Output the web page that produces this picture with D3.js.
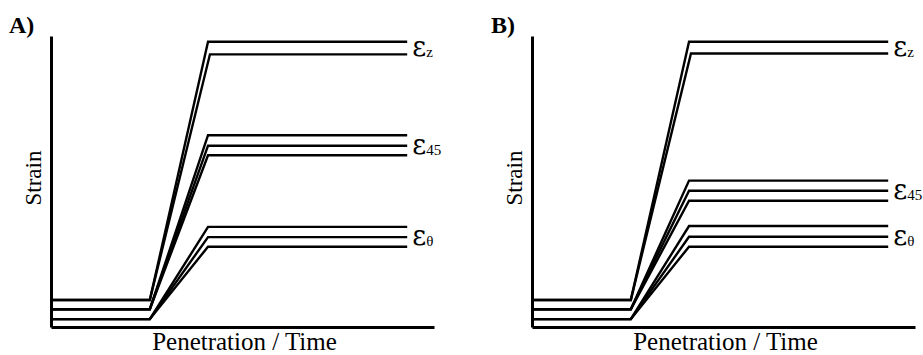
<!DOCTYPE html>
<html>
<head>
<meta charset="utf-8">
<script src="https://cdn.jsdelivr.net/npm/d3@7"></script>
<style>
  html, body { margin: 0; padding: 0; background: #ffffff; }
  svg { display: block; }
  svg text { font-family: "Liberation Serif", "Times New Roman", serif; fill: #000; }
</style>
</head>
<body>
<svg id="chart" width="923" height="355"></svg>
<script>
// ---- data (arbitrary strain / time units) ----
const panels = ["A)", "B)"];
const groups = ["z", "45", "θ"];
// baseline strain of each group before the ramp
const baselines = [9.3, 6.1, 2.7];
// key time points: start, knee (ramp start), corner (ramp end), end
const timePoints = [0, 25.8, 41.0, 93.0];
// final strain levels per group for each panel
const levelsA = [[98.0, 93.7], [65.9, 62.3, 59.0], [34.4, 30.9, 27.6]];
const levelsB = [[98.0, 94.0], [50.3, 46.8, 43.4], [34.7, 31.0, 27.6]];
const xLabel = "Penetration / Time";
const yLabel = "Strain";

// ---- layout ----
const FONT = "'Liberation Serif', 'Times New Roman', serif";
const GREEK = "'DejaVu Serif', 'Liberation Serif', serif";
const svg = d3.select("#chart");
const panelOffsets = [0, 481];
const allLevels = [levelsA, levelsB];

panels.forEach((pname, pi) => {
  const off = panelOffsets[pi];
  const x = d3.scaleLinear().domain([0, 100]).range([51 + off, 434 + off]);
  const y = d3.scaleLinear().domain([0, 100]).range([327, 36]);
  const g = svg.append("g");

  // series lines
  const line = d3.line().x(d => x(d[0])).y(d => y(d[1]));
  allLevels[pi].forEach((lv, gi) => {
    lv.forEach((v, li) => {
      const pts = [
        [timePoints[0], baselines[gi]],
        [timePoints[1], baselines[gi]],
        [timePoints[2] + (gi === 0 ? li * 0.5 : 0), v],
        [timePoints[3], v]
      ];
      g.append("path")
        .attr("d", line(pts))
        .attr("fill", "none")
        .attr("stroke", "#000")
        .attr("stroke-width", 2.4)
        .attr("stroke-linejoin", "miter");
    });
    // label
    const midY = lv.length === 3 ? lv[1] : d3.mean(lv);
    const t = g.append("text")
      .attr("font-family", FONT)
      .attr("x", x(timePoints[3]) + 5)
      .attr("y", y(midY) + 8);
    t.append("tspan").attr("font-family", GREEK).attr("font-size", 27).text("ε");
    t.append("tspan").attr("font-size", 15).attr("dy", 1).text(groups[gi]);
  });

  // axes (no ticks)
  const yAxis = d3.axisLeft(y).tickValues([]).tickSizeOuter(0);
  const xAxis = d3.axisBottom(x).tickValues([]).tickSizeOuter(0);
  g.append("g").attr("transform", `translate(${x(0)},0)`).call(yAxis)
    .select(".domain").attr("stroke-width", 3).attr("stroke", "#000");
  g.append("g").attr("transform", `translate(0,${y(0)})`).call(xAxis)
    .select(".domain").attr("stroke-width", 3).attr("stroke", "#000");

  // panel label
  g.append("text")
    .attr("font-family", FONT)
    .attr("x", 9 + off + (pi ? 1 : 0))
    .attr("y", 33)
    .attr("font-size", 24)
    .attr("font-weight", "bold")
    .text(pname);

  // y label
  g.append("text")
    .attr("font-family", FONT)
    .attr("transform", `translate(${41 + off},178) rotate(-90)`)
    .attr("text-anchor", "middle")
    .attr("font-size", 23)
    .text(yLabel);

  // x label
  g.append("text")
    .attr("font-family", FONT)
    .attr("x", 244.5 + off)
    .attr("y", 350)
    .attr("text-anchor", "middle")
    .attr("font-size", 25)
    .text(xLabel);
});
</script>
</body>
</html>
